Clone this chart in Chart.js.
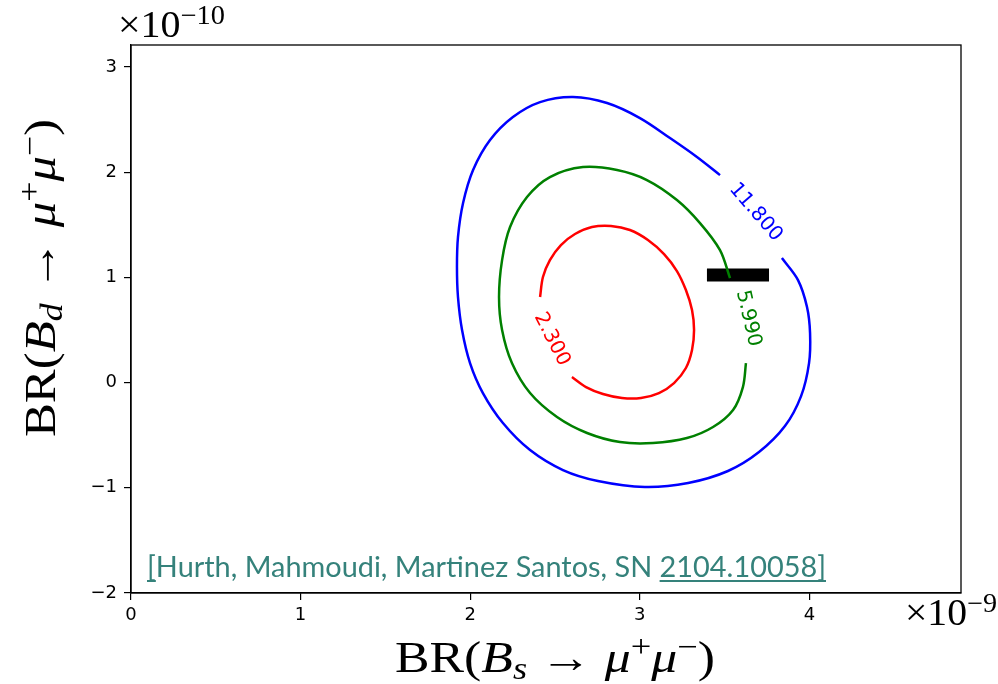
<!DOCTYPE html>
<html><head><meta charset="utf-8">
<script src="https://cdn.jsdelivr.net/npm/chart.js@4.4.0/dist/chart.umd.min.js"></script>
<style>html,body{margin:0;padding:0;background:#fff;}#wrap{position:relative;width:998px;height:684px;}</style>
</head><body><div id="wrap"><canvas id="c" width="998" height="684"></canvas></div>
<script>
// ---- data (x in units of 1e-9, y in units of 1e-10) ----
const xTicks = [0, 1, 2, 3, 4];
const xTickLabels = ['0', '1', '2', '3', '4'];
const yTicks = [-2, -1, 0, 1, 2, 3];
const yTickLabels = ['\u22122', '\u22121', '0', '1', '2', '3'];

// contour chi2 = 11.800 (blue)
const blueX = [3.838,3.933,3.986,4.004,3.998,3.951,3.856,3.703,3.520,3.285,3.030,2.753,2.547,2.353,2.193,2.075,1.999,1.952,1.928,1.922,1.928,1.958,2.017,2.117,2.252,2.412,2.606,2.807,3.001,3.178,3.337,3.473];
const blueY = [1.184,0.975,0.719,0.471,0.186,-0.128,-0.413,-0.660,-0.840,-0.954,-0.992,-0.935,-0.831,-0.641,-0.384,-0.099,0.186,0.500,0.814,1.099,1.384,1.707,2.021,2.306,2.525,2.667,2.715,2.658,2.515,2.325,2.145,1.973];

// contour chi2 = 5.990 (green)
const greenX = [3.626,3.608,3.550,3.432,3.278,3.078,2.883,2.689,2.512,2.353,2.246,2.188,2.170,2.188,2.235,2.335,2.470,2.665,2.866,3.042,3.219,3.355,3.473,3.532];
const greenY = [0.186,-0.042,-0.260,-0.422,-0.527,-0.574,-0.565,-0.479,-0.327,-0.099,0.186,0.500,0.814,1.165,1.479,1.764,1.954,2.049,2.021,1.926,1.736,1.517,1.260,0.994];

// contour chi2 = 2.300 (red)
const redX = [2.600,2.683,2.783,2.895,3.007,3.113,3.202,3.272,3.308,3.320,3.308,3.272,3.219,3.143,3.048,2.942,2.830,2.718,2.618,2.535,2.470,2.429,2.412];
const redY = [0.053,-0.042,-0.108,-0.146,-0.146,-0.099,-0.004,0.139,0.310,0.500,0.690,0.880,1.061,1.222,1.356,1.451,1.489,1.479,1.413,1.308,1.165,1.004,0.814];

// black horizontal bar
const barX = [3.396, 3.762];
const barY = [1.023, 1.023];

const labelTexts = ['11.800', '5.990', '2.300'];
const labelX = [3.683, 3.640, 2.481];
const labelY = [1.619, 0.611, 0.412];
const labelAngles = [49, 77, 63];
const labelColors = ['#0000ff', '#008000', '#ff0000'];

const citation = '[Hurth, Mahmoudi, Martinez Santos, SN 2104.10058]';

function pts(xs, ys){ return xs.map((x,i)=>({x:x, y:ys[i]})); }

const SERIF = '"Liberation Serif","DejaVu Serif",serif';

// draw a run of mixed-font text; anchor 'center' or 'left'; stretched to targetW
function drawRuns(ctx, runs, x, y, targetW, anchor){
  let total = 0;
  runs.forEach(r=>{ ctx.font = r.font; r.w = ctx.measureText(r.t).width; total += r.w; });
  const s = targetW / total;
  ctx.save();
  ctx.translate(anchor === 'center' ? x - targetW/2 : x, y);
  ctx.scale(s, 1);
  ctx.textAlign = 'left';
  ctx.textBaseline = 'alphabetic';
  let cx = 0;
  runs.forEach(r=>{ ctx.font = r.font; ctx.fillText(r.t, cx, (r.dy||0)); cx += r.w; });
  ctx.restore();
}
function titleRuns(sub){
  const big = '44px ' + SERIF, bigI = 'italic 44px ' + SERIF, sm = '31px ' + SERIF, smI = 'italic 31px ' + SERIF;
  return [
    {t:'BR(', font:big},
    {t:'B', font:bigI},
    {t:sub, font:smI, dy:7},
    {t:' \u2192 ', font:big},
    {t:'\u03bc', font:bigI},
    {t:'+', font:sm, dy:-15},
    {t:'\u03bc', font:bigI},
    {t:'\u2212', font:sm, dy:-15},
    {t:')', font:big}
  ];
}
function expRuns(e){
  return [
    {t:'\u00d710', font:'38px ' + SERIF},
    {t:e, font:'27px ' + SERIF, dy:-13}
  ];
}

const decor = {
  id: 'decor',
  afterDraw(chart){
    const ctx = chart.ctx, a = chart.chartArea;
    const xs = chart.scales.x, ys = chart.scales.y;
    ctx.save();
    // frame
    ctx.strokeStyle = '#000'; ctx.lineWidth = 1.3;
    ctx.strokeRect(a.left, a.top, a.right - a.left, a.bottom - a.top);
    // contour labels
    ctx.font = '20px "DejaVu Sans"';
    ctx.textAlign = 'center'; ctx.textBaseline = 'middle';
    labelTexts.forEach((t,i)=>{
      ctx.save();
      ctx.translate(xs.getPixelForValue(labelX[i]), ys.getPixelForValue(labelY[i]));
      ctx.rotate(labelAngles[i]*Math.PI/180);
      ctx.fillStyle = labelColors[i];
      ctx.fillText(t, 0, 0);
      ctx.restore();
    });
    // axis titles
    ctx.fillStyle = '#000';
    drawRuns(ctx, titleRuns('s'), 555, 672, 320, 'center');
    ctx.save();
    ctx.translate(55, 278);
    ctx.rotate(-Math.PI/2);
    drawRuns(ctx, titleRuns('d'), 0, 0, 318, 'center');
    ctx.restore();
    // offset texts
    drawRuns(ctx, expRuns('\u221210'), 118, 37, 107, 'left');
    drawRuns(ctx, expRuns('\u22129'), 905, 625, 92, 'left');
    // citation
    ctx.fillStyle = '#35827b';
    ctx.font = '28px Lato';
    ctx.textAlign = 'left'; ctx.textBaseline = 'alphabetic';
    const fullW = ctx.measureText(citation).width;
    const sx = 679 / fullW;
    ctx.save();
    ctx.translate(147, 577);
    ctx.scale(sx, 1);
    ctx.fillText(citation, 0, 0);
    const w1 = ctx.measureText('[').width;
    const pre = ctx.measureText('[Hurth, Mahmoudi, Martinez Santos, SN ').width;
    ctx.fillRect(0, 3, w1, 2);
    ctx.fillRect(pre, 3, fullW - pre, 2);
    ctx.restore();
    ctx.restore();
  }
};

const lineDs = (data, color) => ({data, borderColor: color, borderWidth: 2.5, showLine: true, pointRadius: 0, tension: 0.33, fill: false});

new Chart(document.getElementById('c'), {
  type: 'scatter',
  data: { datasets: [
    lineDs(pts(blueX, blueY), '#0000ff'),
    lineDs(pts(greenX, greenY), '#008000'),
    lineDs(pts(redX, redY), '#ff0000'),
    {data: pts(barX, barY), borderColor: '#000', borderWidth: 13, showLine: true, pointRadius: 0, borderCapStyle: 'butt', tension: 0}
  ]},
  options: {
    responsive: false, animation: false, devicePixelRatio: 1,
    layout: { padding: { left: 0, right: 37, top: 45, bottom: 0 } },
    plugins: { legend: {display: false}, tooltip: {enabled: false} },
    scales: {
      x: {
        type: 'linear', min: 0, max: 4.894,
        afterFit(s){ s.height = 91; },
        afterBuildTicks(s){ s.ticks = xTicks.map(v=>({value:v})); },
        ticks: { callback: (v)=> xTickLabels[xTicks.indexOf(v)], color: '#000', font: {family: 'DejaVu Sans', size: 18}, padding: 5, maxRotation: 0 },
        grid: { display: true, drawOnChartArea: false, drawTicks: true, tickLength: 7, color: '#000', lineWidth: 1.2 },
        border: { display: true, color: '#000', width: 1.3 }
      },
      y: {
        type: 'linear', min: -2, max: 3.21,
        afterFit(s){ s.width = 131; },
        afterBuildTicks(s){ s.ticks = yTicks.map(v=>({value:v})); },
        ticks: { callback: (v)=> yTickLabels[yTicks.indexOf(v)], color: '#000', font: {family: 'DejaVu Sans', size: 18}, padding: 7 },
        grid: { display: true, drawOnChartArea: false, drawTicks: true, tickLength: 7, color: '#000', lineWidth: 1.2 },
        border: { display: true, color: '#000', width: 1.3 }
      }
    }
  },
  plugins: [decor]
});
</script></body></html>
